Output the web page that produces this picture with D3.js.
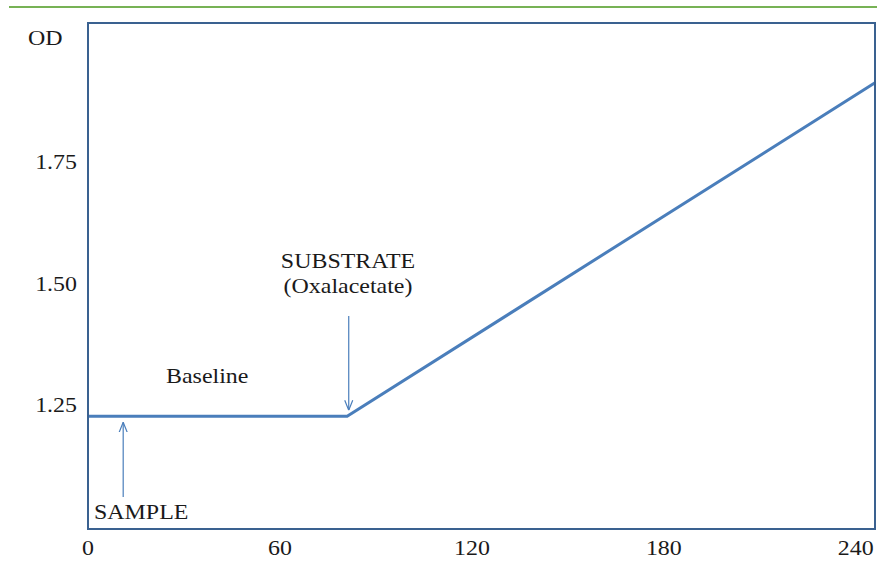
<!DOCTYPE html>
<html>
<head>
<meta charset="utf-8">
<script src="https://cdn.jsdelivr.net/npm/d3@7"></script>
<style>
  html, body { margin: 0; padding: 0; background: #fff; }
  svg { display: block; }
  text { font-family: "Liberation Serif", "Times New Roman", serif; fill: #1a1a1a; }
</style>
</head>
<body>
<svg id="chart" width="877" height="572"></svg>
<script>
// ---- data ----
const timePoints = [0, 81, 246];          // seconds
const odValues   = [1.232, 1.232, 1.918]; // OD
const xTickValues = [0, 60, 120, 180, 240];
const yTickValues = [1.25, 1.50, 1.75];
const sampleTime = 11;
const substrateTime = 81.5;

// ---- layout ----
const W = 877, H = 572;
const plot = { left: 88, top: 23, right: 875, bottom: 529 };
const svg = d3.select("#chart");
const stretch = 1.14;

const x = d3.scaleLinear().domain([0, 246]).range([plot.left, plot.right]);
const y = d3.scaleLinear().domain([1.0, 2.041]).range([plot.bottom, plot.top]);

// top green rule
svg.append("line")
  .attr("x1", 9).attr("x2", W).attr("y1", 7).attr("y2", 7)
  .attr("stroke", "#77b255").attr("stroke-width", 2);

// arrow marker
const defs = svg.append("defs");
defs.append("marker")
  .attr("id", "chev").attr("viewBox", "0 0 10 10")
  .attr("refX", 10).attr("refY", 5)
  .attr("markerWidth", 10).attr("markerHeight", 10)
  .attr("markerUnits", "userSpaceOnUse")
  .attr("orient", "auto")
  .append("path").attr("d", "M0,1 L10,5 L0,9")
  .attr("fill", "none").attr("stroke", "#4a7ebb").attr("stroke-width", 1.2);

// data line
const line = d3.line().x((d, i) => x(timePoints[i])).y(d => y(d));
svg.append("path")
  .datum(odValues)
  .attr("d", line)
  .attr("fill", "none")
  .attr("stroke", "#4a7ebb")
  .attr("stroke-width", 3);

// plot frame
svg.append("rect")
  .attr("x", plot.left).attr("y", plot.top)
  .attr("width", plot.right - plot.left).attr("height", plot.bottom - plot.top)
  .attr("fill", "none").attr("stroke", "#3a6190").attr("stroke-width", 2);

function label(txt, px, py, anchor) {
  svg.append("text")
    .attr("transform", `translate(${px},${py}) scale(${stretch},1)`)
    .attr("text-anchor", anchor || "start")
    .attr("font-size", 21)
    .text(txt);
}

// y tick labels
yTickValues.forEach(v => label(d3.format(".2f")(v), 77, y(v) + 5, "end"));
// x tick labels
xTickValues.forEach(v => label(String(v), x(v), 555, "middle"));
// axis title
label("OD", 28, 45, "start");

// annotations
label("Baseline", 166, 383, "start");
label("SAMPLE", 94, 519, "start");
label("SUBSTRATE", 348, 268, "middle");
label("(Oxalacetate)", 348, 293, "middle");

// sample arrow (up)
svg.append("line")
  .attr("x1", x(sampleTime)).attr("x2", x(sampleTime))
  .attr("y1", 497).attr("y2", y(odValues[0]) + 6)
  .attr("stroke", "#4a7ebb").attr("stroke-width", 1.2)
  .attr("marker-end", "url(#chev)");

// substrate arrow (down)
svg.append("line")
  .attr("x1", x(substrateTime)).attr("x2", x(substrateTime))
  .attr("y1", 316).attr("y2", y(odValues[1]) - 6)
  .attr("stroke", "#4a7ebb").attr("stroke-width", 1.2)
  .attr("marker-end", "url(#chev)");
</script>
</body>
</html>
